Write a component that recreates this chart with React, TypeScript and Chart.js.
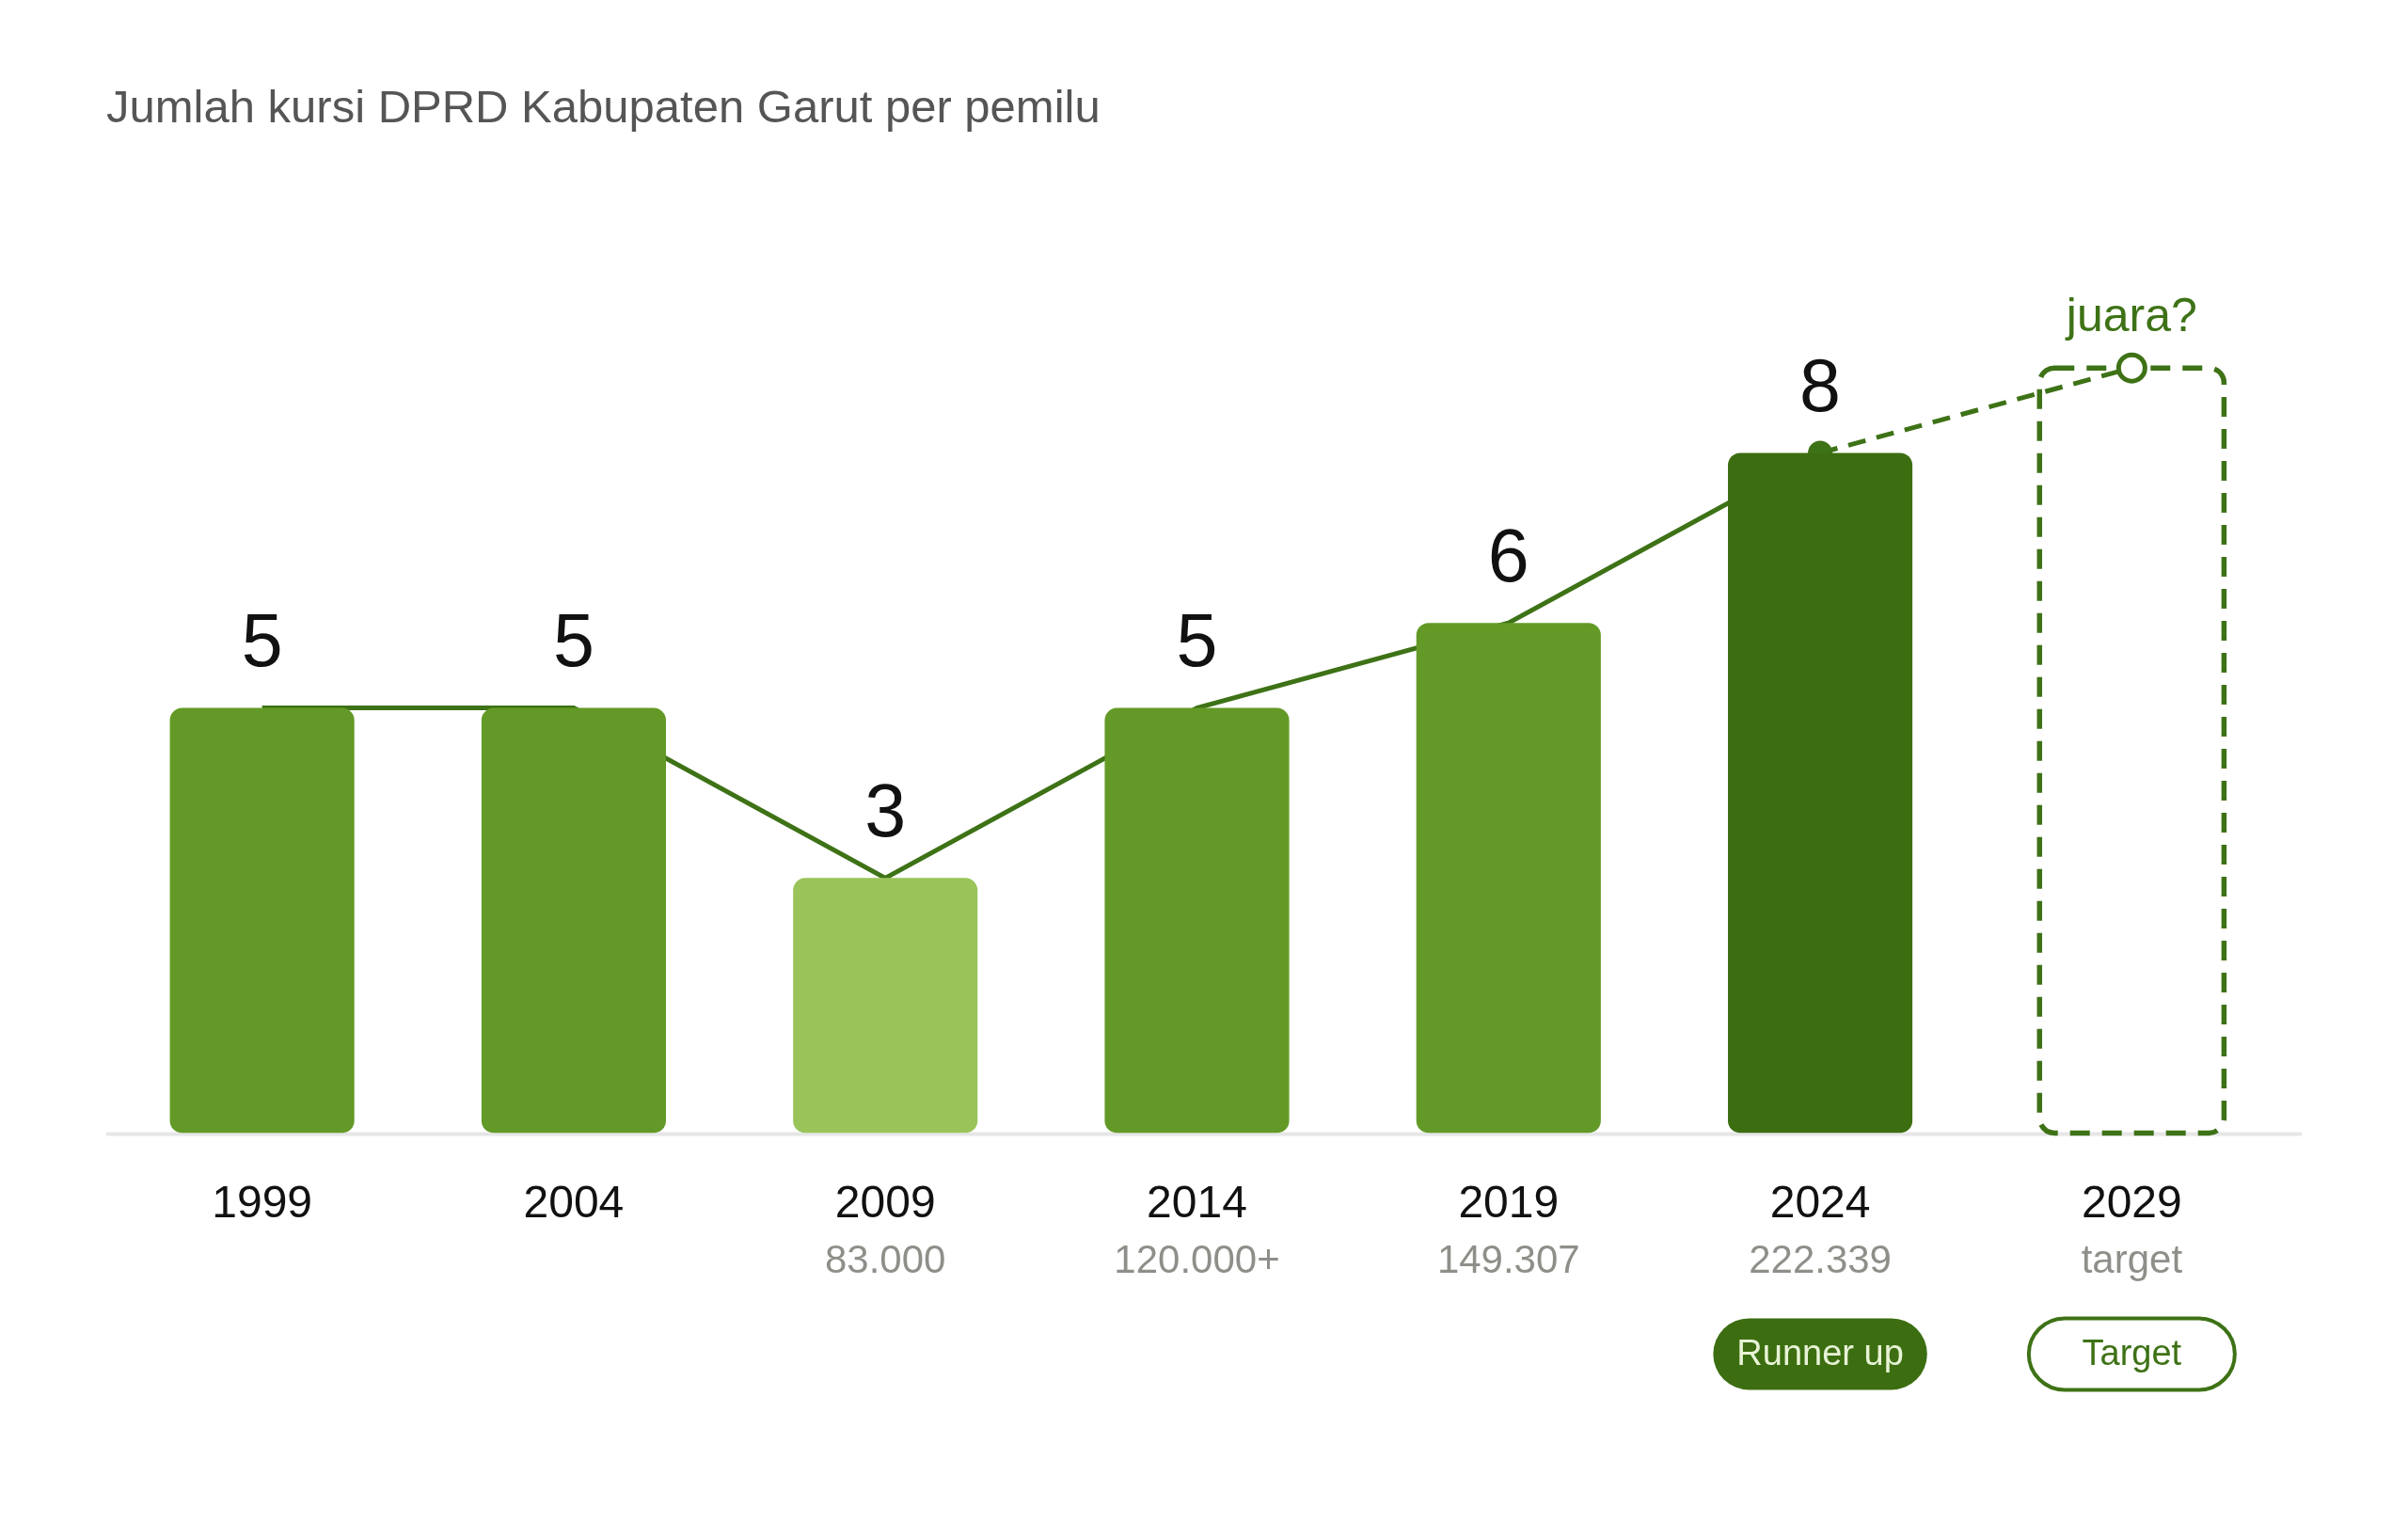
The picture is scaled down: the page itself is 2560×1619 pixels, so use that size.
import React, { useEffect, useRef } from "react";
import { Chart, registerables } from "chart.js";

Chart.register(...registerables);

// data
const years = ["1999", "2004", "2009", "2014", "2019", "2024", "2029"];
const seats = [5, 5, 3, 5, 6, 8];
const targetSeats = 9;
const voteLabels = ["", "", "83.000", "120.000+", "149.307", "222.339", "target"];
const badgeLabels = ["", "", "", "", "", "Runner up", "Target"];
const targetNote = "juara?";
const title = "Jumlah kursi DPRD Kabupaten Garut per pemilu";

const FONT = "'Liberation Sans', Arial, Helvetica, sans-serif";
const MID = "#639a27";
const LIGHT = "#9ac45a";
const DARK = "#3c6e11";
const LINE = "#3e7216";

const allValues = [...seats, targetSeats];
const lastIdx = seats.length - 1;
const targetIdx = seats.length;
const minSeats = Math.min(...seats);
const maxSeats = Math.max(...seats);

const annotate = {
  id: "annotate",
  beforeDatasetsDraw(chart: any) {
    const { ctx, chartArea } = chart;
    ctx.save();
    // baseline
    ctx.strokeStyle = "#e6e6e6";
    ctx.lineWidth = 4;
    ctx.beginPath();
    ctx.moveTo(chartArea.left, chartArea.bottom + 1);
    ctx.lineTo(chartArea.right + 15, chartArea.bottom + 1);
    ctx.stroke();

    // dashed target box
    const bar = chart.getDatasetMeta(0).data[targetIdx];
    const { x, y, base, width } = bar.getProps(["x", "y", "base", "width"], true);
    ctx.setLineDash([21, 13]);
    ctx.strokeStyle = LINE;
    ctx.lineWidth = 5.5;
    ctx.beginPath();
    ctx.roundRect(x - width / 2, y, width, base - y, 16);
    ctx.stroke();
    ctx.restore();
  },
  afterDraw(chart: any) {
    const { ctx, chartArea } = chart;
    const bars = chart.getDatasetMeta(0).data;
    const xScale = chart.scales.x;
    ctx.save();
    ctx.textAlign = "center";
    ctx.textBaseline = "middle";

    // values above bars
    bars.forEach((bar: any, i: number) => {
      if (i === targetIdx) {
        ctx.fillStyle = LINE;
        ctx.font = `50px ${FONT}`;
        ctx.fillText(targetNote, bar.x, bar.y - 53);
      } else {
        ctx.fillStyle = "#111";
        ctx.font = `79px ${FONT}`;
        ctx.fillText(String(seats[i]), bar.x, bar.y - 66);
      }
    });

    // vote counts under the years
    ctx.fillStyle = "#8f8f8a";
    ctx.font = `42px ${FONT}`;
    voteLabels.forEach((t, i) => {
      if (!t) return;
      ctx.fillText(t, xScale.getPixelForValue(i), chartArea.bottom + 137);
    });

    // badges
    ctx.font = `38px ${FONT}`;
    badgeLabels.forEach((t, i) => {
      if (!t) return;
      const cx = xScale.getPixelForValue(i);
      const cy = chartArea.bottom + 235;
      const w = Math.max(ctx.measureText(t).width + 50, 219);
      const h = 76;
      ctx.beginPath();
      ctx.roundRect(cx - w / 2, cy - h / 2, w, h, h / 2);
      if (i === targetIdx) {
        ctx.fillStyle = "#fff";
        ctx.fill();
        ctx.strokeStyle = LINE;
        ctx.lineWidth = 4;
        ctx.stroke();
        ctx.fillStyle = LINE;
      } else {
        ctx.fillStyle = DARK;
        ctx.fill();
        ctx.fillStyle = "#e8f3d6";
      }
      ctx.fillText(t, cx, cy + 1);
    });
    ctx.restore();
  },
};

const SeatsChart = () => {
  const chartRef: any = useRef(null);
  const chartInstance: any = useRef(null);

  useEffect(() => {
    if (!chartRef.current) return;
    chartInstance.current = new Chart(chartRef.current, {
      type: "bar",
      data: {
        labels: years,
        datasets: [
          {
            type: "bar",
            data: allValues,
            backgroundColor: (c: any) => {
              const i = c.dataIndex;
              if (i === targetIdx) return "rgba(0,0,0,0)";
              const v = allValues[i];
              if (v === maxSeats) return DARK;
              if (v === minSeats) return LIGHT;
              return MID;
            },
            borderWidth: 0,
            borderRadius: 13,
            borderSkipped: false,
            barPercentage: 0.592,
            categoryPercentage: 1,
            order: 1,
          },
          {
            type: "line",
            data: allValues,
            borderColor: LINE,
            borderWidth: 5,
            tension: 0,
            pointRadius: (c: any) =>
              c.dataIndex === lastIdx ? 12 : c.dataIndex === targetIdx ? 14 : 0,
            pointBackgroundColor: (c: any) => (c.dataIndex === targetIdx ? "#fff" : LINE),
            pointBorderColor: LINE,
            pointBorderWidth: (c: any) => (c.dataIndex === targetIdx ? 5 : 2),
            segment: {
              borderDash: (s: any) => (s.p1DataIndex === targetIdx ? [19, 12] : undefined),
            },
            order: 2,
          },
        ],
      } as any,
      options: {
        animation: false,
        responsive: true,
        maintainAspectRatio: false,
        events: [],
        layout: { padding: { top: 0, left: 113, right: 128, bottom: 261 } },
        plugins: {
          legend: { display: false },
          tooltip: { enabled: false },
          title: {
            display: true,
            text: title,
            align: "start",
            color: "#555",
            font: { family: FONT, size: 49, weight: "normal" },
            padding: { top: 87, bottom: 155 },
          },
        },
        scales: {
          x: {
            grid: { display: false, drawTicks: false },
            border: { display: false },
            ticks: {
              color: "#111",
              font: { family: FONT, size: 48 },
              padding: 48,
              autoSkip: false,
              maxRotation: 0,
            },
          },
          y: { display: false, min: 0, max: 10 },
        },
      } as any,
      plugins: [annotate],
    });

    return () => {
      if (chartInstance.current) {
        chartInstance.current.destroy();
      }
    };
  }, []);

  return (
    <div style={{ position: "fixed", left: 0, top: 0, width: 2560, height: 1619, background: "#fff" }}>
      <canvas ref={chartRef}></canvas>
    </div>
  );
};

export default function App() {
  return <SeatsChart />;
}
